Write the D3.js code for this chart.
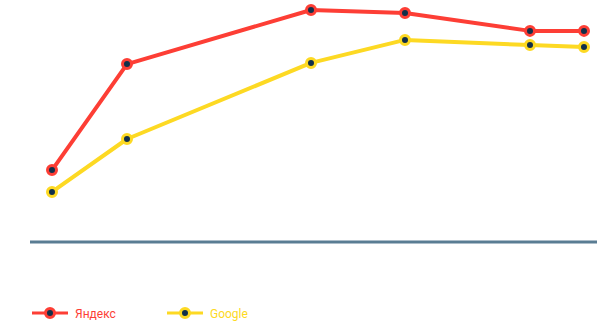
<!DOCTYPE html>
<html><head><meta charset="utf-8">
<script src="https://cdn.jsdelivr.net/npm/d3@7"></script>
<style>body{margin:0;background:#fff}svg{display:block;font-family:Roboto,"Noto Sans",sans-serif}</style>
</head><body><svg id="c" width="607" height="324"></svg>
<script>
const periods = [0, 7.5, 25.9, 35.3, 47.8, 53.2];
const seriesNames = ["Яндекс", "Google"];
const yandex = [31, 76.7, 100, 98.7, 91, 91];
const google = [21.6, 44.4, 77.2, 87.1, 84.9, 84.1];
const colors = ["#fd3e35", "#fdd923"];

const svg = d3.select("#c");
const x = d3.scaleLinear().domain([0, 53.2]).range([52, 584]);
const y = d3.scaleLinear().domain([0, 100]).range([242, 10]);

svg.append("line").attr("x1", 30).attr("x2", 597).attr("y1", y(0)).attr("y2", y(0))
  .attr("stroke", "#5a7d93").attr("stroke-width", 3);

const line = d3.line().x((d, i) => x(periods[i])).y(d => y(d));
[yandex, google].slice().reverse().forEach((vals, k) => {
  const idx = 1 - k;
  const g = svg.append("g");
  g.append("path").datum(vals).attr("d", line).attr("fill", "none")
    .attr("stroke", colors[idx]).attr("stroke-width", 4).attr("stroke-linejoin", "round");
  g.selectAll("circle").data(vals).join("circle")
    .attr("cx", (d, i) => x(periods[i])).attr("cy", d => y(d)).attr("r", 4.5)
    .attr("fill", "#12304a").attr("stroke", colors[idx]).attr("stroke-width", 3);
});

const legend = svg.append("g");
const lx = [32, 167];
seriesNames.forEach((name, i) => {
  const g = legend.append("g").attr("transform", `translate(${lx[i]},313)`);
  g.append("line").attr("x1", 0).attr("x2", 36).attr("stroke", colors[i]).attr("stroke-width", 3);
  g.append("circle").attr("cx", 18).attr("r", 4.5).attr("fill", "#12304a")
    .attr("stroke", colors[i]).attr("stroke-width", 3);
  g.append("text").attr("x", 43).attr("y", 4.5).attr("font-size", 12)
    .attr("fill", colors[i]).text(name);
});
</script></body></html>
